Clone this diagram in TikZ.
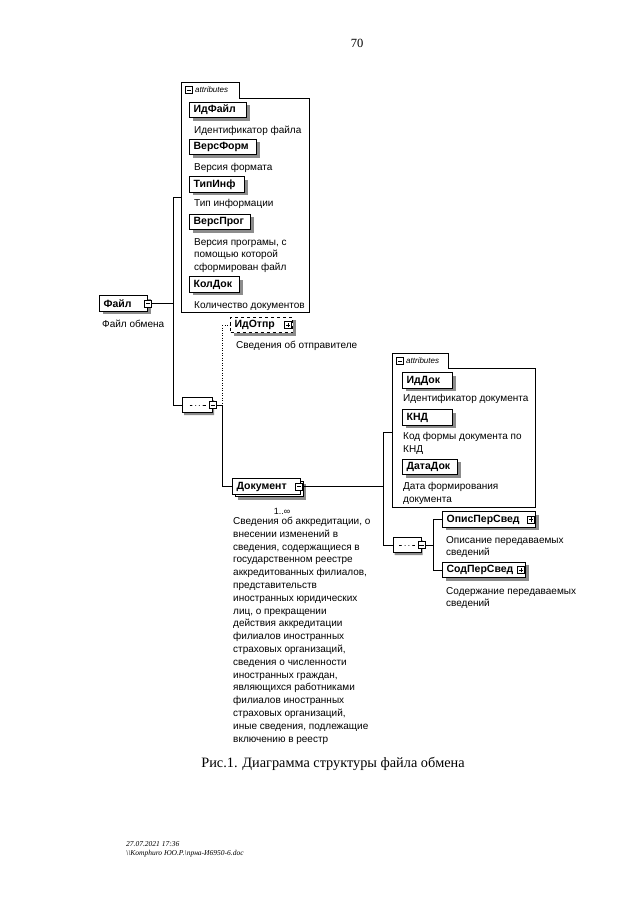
\documentclass[tikz,border=0pt]{standalone}
\usepackage{fontspec}
\setmainfont{Liberation Serif}
\newfontfamily\diagfont{Liberation Sans}
\usetikzlibrary{shapes.misc,shadows}

\tikzset{
	elembase/.style={draw, line width=1.2pt, fill=white, anchor=west, align=left,
		inner xsep=4pt, inner ysep=0pt, minimum height=15.5pt,
		font=\diagfont\fontsize{10.5}{12}\selectfont\bfseries},
	elem/.style={elembase, drop shadow={shadow xshift=3pt, shadow yshift=-3pt, fill=black!45, opacity=1}},
	optelem/.style={elem, dashed},
	multielem/.style={elembase,
		drop shadow={shadow xshift=5.5pt, shadow yshift=-5.5pt, fill=black!45, opacity=1},
		copy shadow={shadow xshift=2.5pt, shadow yshift=-2.5pt, line width=0.8pt}},
	descr/.style={anchor=north west, inner sep=0pt, align=left,
		font=\diagfont\fontsize{10}{12.8}\selectfont},
	minusbox/.style={draw, fill=white, minimum size=7pt, inner sep=0pt, line width=0.6pt,
		path picture={\draw[line width=0.7pt] ([xshift=1.3pt]path picture bounding box.west) -- ([xshift=-1.3pt]path picture bounding box.east);}},
	plusbox/.style={draw, fill=white, minimum size=7pt, inner sep=0pt, line width=0.6pt,
		path picture={\draw[line width=0.7pt] ([xshift=1.3pt]path picture bounding box.west) -- ([xshift=-1.3pt]path picture bounding box.east)
			([yshift=1.3pt]path picture bounding box.south) -- ([yshift=-1.3pt]path picture bounding box.north);}},
	seqbox/.style={draw, fill=white, chamfered rectangle, chamfered rectangle xsep=5pt,
		minimum width=30pt, minimum height=15pt, inner sep=0pt, line width=0.7pt,
		drop shadow={shadow xshift=1.5pt, shadow yshift=-2.5pt, fill=black!45, opacity=1},
		path picture={
			\draw[line width=0.8pt] ([xshift=-8pt]path picture bounding box.center) -- ([xshift=8pt]path picture bounding box.center);
			\foreach \dx in {-3.8,0,3.8}
				\fill ([xshift=\dx pt]path picture bounding box.center) circle (1.8pt);
		}},
	link/.style={line width=0.7pt},
	optlink/.style={line width=0.7pt, dash pattern=on 1pt off 1.5pt},
	attrbox/.style={line width=0.7pt},
	tablabel/.style={anchor=west, inner sep=0pt, font=\diagfont\fontsize{8}{9}\selectfont\itshape},
}

\begin{document}
\begin{tikzpicture}[x=1pt, y=-1pt]

	\path[use as bounding box, fill=white] (0,0) rectangle (640,905);

	\node[font=\fontsize{12.5}{14}\selectfont] (pagenum) at (357,43) {70};

	% attributes of Файл
	\draw[attrbox] (181,312) -- (181,82) -- (239,82) -- (239,98) -- (309,98) -- (309,312) -- cycle;
	\node[minusbox] (attrAexp) at (189,90) {};
	\node[tablabel] (attrAtab) at (195,90) {attributes};

	\node[elem, text width=49pt] (idfile) at (189,110) {ИдФайл};
	\node[descr] (idfiletxt) at (194,126) {Идентификатор файла};
	\node[elem, text width=59pt] (versform) at (189,147) {ВерсФорм};
	\node[descr] (versformtxt) at (194,163) {Версия формата};
	\node[elem, text width=47pt] (tipinf) at (189,184.5) {ТипИнф};
	\node[descr] (tipinftxt) at (194,199) {Тип информации};
	\node[elem, text width=53pt] (versprog) at (189,222) {ВерсПрог};
	\node[descr] (versprogtxt) at (194,238) {Версия програмы, с\\помощью которой\\сформирован файл};
	\node[elem, text width=42pt] (koldok) at (189,284.5) {КолДок};
	\node[descr] (koldoktxt) at (194,301) {Количество документов};

	% root
	\node[elem, text width=40pt] (file) at (99,303.5) {Файл};
	\node[minusbox] (fileexp) at (file.east) {};
	\node[descr] (filetxt) at (102,320) {Файл обмена};

	\coordinate (busAtop) at (173,197);
	\coordinate (busAbot) at (173,405);
	\coordinate (attrAin) at (181,197);
	\draw[link] (busAtop) -- (busAbot);
	\draw[link] (busAtop) -- (attrAin);
	\draw[link] (fileexp.east) -- (fileexp.east -| busAtop);

	% sequence
	\node[seqbox] (seqA) at (197.5,405) {};
	\node[minusbox] (seqAexp) at (seqA.east) {};
	\draw[link] (busAbot) -- (seqA.west);

	\node[optelem, text width=54pt] (idotpr) at (230,325) {ИдОтпр};
	\node[plusbox] (idotprexp) at ([xshift=-5pt]idotpr.east) {};
	\node[descr] (idotprtxt) at (236,341) {Сведения об отправителе};

	\node[multielem, text width=60pt] (doc) at (232,486.5) {Документ};
	\node[minusbox] (docexp) at ([xshift=-2pt]doc.east) {};
	\node[font=\diagfont\fontsize{9}{10}\selectfont] (docmult) at (282,511) {1..∞};
	\node[descr] (doctxt) at (233,517) {Сведения об аккредитации, о\\внесении изменений в\\сведения, содержащиеся в\\государственном реестре\\аккредитованных филиалов,\\представительств\\иностранных юридических\\лиц, о прекращении\\действия аккредитации\\филиалов иностранных\\страховых организаций,\\сведения о численности\\иностранных граждан,\\являющихся работниками\\филиалов иностранных\\страховых организаций,\\иные сведения, подлежащие\\включению в реестр};

	\coordinate (busBtop) at (222,325);
	\coordinate (busBmid) at (222,405);
	\coordinate (busBbot) at (222,486.5);
	\draw[optlink] (busBtop) -- (busBmid);
	\draw[link] (busBmid) -- (busBbot);
	\draw[link] (seqAexp.east) -- (busBmid);
	\draw[optlink] (busBtop) -- (idotpr.west);
	\draw[link] (busBbot) -- (doc.west);

	% attributes of Документ
	\draw[attrbox] (392,507) -- (392,353) -- (448,353) -- (448,368) -- (535,368) -- (535,507) -- cycle;
	\node[minusbox] (attrBexp) at (400,361) {};
	\node[tablabel] (attrBtab) at (406,361) {attributes};

	\node[elem, text width=42pt] (iddok) at (402,380.5) {ИдДок};
	\node[descr] (iddoktxt) at (403,394) {Идентификатор документа};
	\node[elem, text width=42pt] (knd) at (402,417.5) {КНД};
	\node[descr] (kndtxt) at (403,432) {Код формы документа по\\КНД};
	\node[elem, text width=47pt] (datadok) at (402,467) {ДатаДок};
	\node[descr] (datadoktxt) at (403,482) {Дата формирования\\документа};

	\coordinate (busCtop) at (383,432);
	\coordinate (busCdoc) at (383,486.5);
	\coordinate (busCbot) at (383,545);
	\coordinate (attrBin) at (392,432);
	\draw[link] (busCtop) -- (busCbot);
	\draw[link] (busCtop) -- (attrBin);
	\draw[link] (docexp.east) -- (busCdoc);

	% sequence of Документ
	\node[seqbox, minimum width=28pt] (seqB) at (407,545) {};
	\node[minusbox] (seqBexp) at (seqB.east) {};
	\draw[link] (busCbot) -- (seqB.west);

	\node[elem, text width=85pt] (opis) at (442,519.5) {ОписПерСвед};
	\node[plusbox] (opisexp) at ([xshift=-5pt]opis.east) {};
	\node[descr] (opistxt) at (446,536) {Описание передаваемых\\сведений};
	\node[elem, text width=75pt] (sod) at (442,570) {СодПерСвед};
	\node[plusbox] (sodexp) at ([xshift=-5pt]sod.east) {};
	\node[descr] (sodtxt) at (446,587) {Содержание передаваемых\\сведений};

	\coordinate (busDtop) at (433,519.5);
	\coordinate (busDmid) at (433,545);
	\coordinate (busDbot) at (433,570);
	\draw[link] (busDtop) -- (busDbot);
	\draw[link] (seqBexp.east) -- (busDmid);
	\draw[link] (busDtop) -- (opis.west);
	\draw[link] (busDbot) -- (sod.west);

	% caption and footer
	\node[font=\fontsize{14.3}{16}\selectfont] (caption) at (333,764) {Рис.1. Диаграмма структуры файла обмена};
	\node[anchor=north west, align=left, inner sep=0pt, font=\fontsize{7.5}{9}\selectfont\itshape] (footer) at (126,841) {27.07.2021 17:36\\\textbackslash\textbackslash Komphuro ЮО.Р.\textbackslash прна-И6950-6.doc};

\end{tikzpicture}
\end{document}
